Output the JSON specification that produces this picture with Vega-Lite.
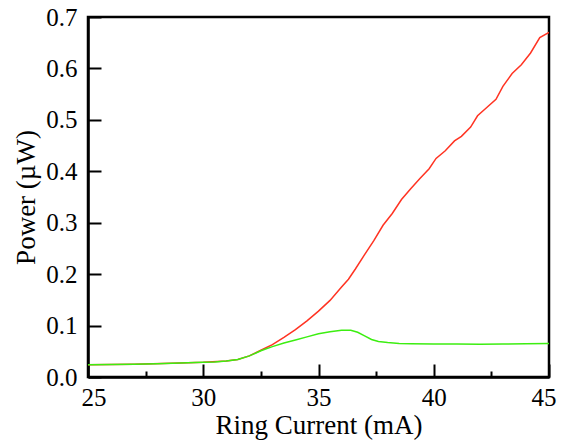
{
  "$schema": "https://vega.github.io/schema/vega-lite/v6.json",
  "width": 461,
  "height": 360,
  "autosize": {"type": "none"},
  "padding": {"left": 88, "top": 17, "right": 12, "bottom": 70},
  "background": "white",
  "config": {
    "font": "Times New Roman, Liberation Serif, serif",
    "view": {"stroke": "black", "strokeWidth": 2.5},
    "axis": {
      "labelFont": "Times New Roman, Liberation Serif, serif",
      "titleFont": "Times New Roman, Liberation Serif, serif",
      "labelFontSize": 25,
      "titleFontSize": 27,
      "titleFontWeight": "normal",
      "labelColor": "black",
      "titleColor": "black",
      "domainColor": "black",
      "domainWidth": 2.5,
      "tickColor": "black",
      "tickWidth": 2,
      "grid": false
    }
  },
  "data": {
    "values": [
      {"s": "red", "x": 25, "y": 0.024},
      {"s": "red", "x": 27, "y": 0.025},
      {"s": "red", "x": 29, "y": 0.027},
      {"s": "red", "x": 30, "y": 0.0285},
      {"s": "red", "x": 31, "y": 0.031},
      {"s": "red", "x": 31.5, "y": 0.034},
      {"s": "red", "x": 32, "y": 0.041},
      {"s": "red", "x": 32.5, "y": 0.052},
      {"s": "red", "x": 33, "y": 0.063},
      {"s": "red", "x": 33.5, "y": 0.077},
      {"s": "red", "x": 34, "y": 0.092},
      {"s": "red", "x": 34.5, "y": 0.109},
      {"s": "red", "x": 35, "y": 0.128},
      {"s": "red", "x": 35.5, "y": 0.149},
      {"s": "red", "x": 36, "y": 0.175},
      {"s": "red", "x": 36.3, "y": 0.19},
      {"s": "red", "x": 36.6, "y": 0.21},
      {"s": "red", "x": 37, "y": 0.238},
      {"s": "red", "x": 37.4, "y": 0.265},
      {"s": "red", "x": 37.8, "y": 0.295},
      {"s": "red", "x": 38.2, "y": 0.318},
      {"s": "red", "x": 38.6, "y": 0.345},
      {"s": "red", "x": 39, "y": 0.366},
      {"s": "red", "x": 39.4, "y": 0.386},
      {"s": "red", "x": 39.8, "y": 0.405},
      {"s": "red", "x": 40.1, "y": 0.425},
      {"s": "red", "x": 40.5, "y": 0.44},
      {"s": "red", "x": 40.9, "y": 0.459},
      {"s": "red", "x": 41.2, "y": 0.468},
      {"s": "red", "x": 41.6, "y": 0.486},
      {"s": "red", "x": 41.9, "y": 0.508},
      {"s": "red", "x": 42.3, "y": 0.524},
      {"s": "red", "x": 42.7, "y": 0.54},
      {"s": "red", "x": 43.0, "y": 0.565},
      {"s": "red", "x": 43.4, "y": 0.59},
      {"s": "red", "x": 43.8, "y": 0.607},
      {"s": "red", "x": 44.2, "y": 0.63},
      {"s": "red", "x": 44.6, "y": 0.66},
      {"s": "red", "x": 45, "y": 0.67},
      {"s": "green", "x": 25, "y": 0.024},
      {"s": "green", "x": 26, "y": 0.0245},
      {"s": "green", "x": 27, "y": 0.025},
      {"s": "green", "x": 28, "y": 0.026},
      {"s": "green", "x": 29, "y": 0.027},
      {"s": "green", "x": 30, "y": 0.0285},
      {"s": "green", "x": 30.5, "y": 0.029},
      {"s": "green", "x": 31, "y": 0.031},
      {"s": "green", "x": 31.5, "y": 0.034},
      {"s": "green", "x": 32, "y": 0.041},
      {"s": "green", "x": 32.5, "y": 0.051},
      {"s": "green", "x": 33, "y": 0.059},
      {"s": "green", "x": 33.5, "y": 0.066},
      {"s": "green", "x": 34, "y": 0.072},
      {"s": "green", "x": 34.5, "y": 0.078},
      {"s": "green", "x": 35, "y": 0.084},
      {"s": "green", "x": 35.5, "y": 0.088},
      {"s": "green", "x": 36, "y": 0.091},
      {"s": "green", "x": 36.4, "y": 0.091},
      {"s": "green", "x": 36.7, "y": 0.087},
      {"s": "green", "x": 37, "y": 0.08},
      {"s": "green", "x": 37.3, "y": 0.073},
      {"s": "green", "x": 37.6, "y": 0.069},
      {"s": "green", "x": 38, "y": 0.067},
      {"s": "green", "x": 38.5, "y": 0.065},
      {"s": "green", "x": 39, "y": 0.0645},
      {"s": "green", "x": 40, "y": 0.064},
      {"s": "green", "x": 41, "y": 0.064},
      {"s": "green", "x": 42, "y": 0.0635},
      {"s": "green", "x": 43, "y": 0.064},
      {"s": "green", "x": 44, "y": 0.0645},
      {"s": "green", "x": 45, "y": 0.065}
    ]
  },
  "layer": [
    {
      "mark": {"type": "line", "strokeWidth": 1.5, "clip": true},
      "encoding": {
        "x": {
          "field": "x", "type": "quantitative",
          "scale": {"domain": [25, 45], "nice": false, "zero": false},
          "axis": {"values": [25, 30, 35, 40, 45], "tickSize": -13, "labelPadding": 21, "labelFlush": true, "labelFlushOffset": 7, "title": "Ring Current (mA)", "titlePadding": 2, "format": "d"}
        },
        "y": {
          "field": "y", "type": "quantitative",
          "scale": {"domain": [0, 0.7], "nice": false},
          "axis": {"values": [0, 0.1, 0.2, 0.3, 0.4, 0.5, 0.6, 0.7], "tickSize": -13, "labelPadding": 24, "format": ".1f", "title": "Power (µW)", "titlePadding": 5}
        },
        "color": {"field": "s", "type": "nominal", "scale": {"domain": ["red", "green"], "range": ["#ff3322", "#3cee11"]}, "legend": null},
        "order": {"field": "x"}
      }
    },
    {
      "mark": {"type": "rule", "opacity": 0},
      "encoding": {
        "x": {
          "datum": 27.5, "type": "quantitative",
          "axis": {"values": [27.5, 32.5, 37.5, 42.5], "tickSize": -6, "labels": false, "domain": false, "title": null, "orient": "bottom"}
        }
      }
    }
  ],
  "resolve": {"axis": {"x": "independent"}}
}
